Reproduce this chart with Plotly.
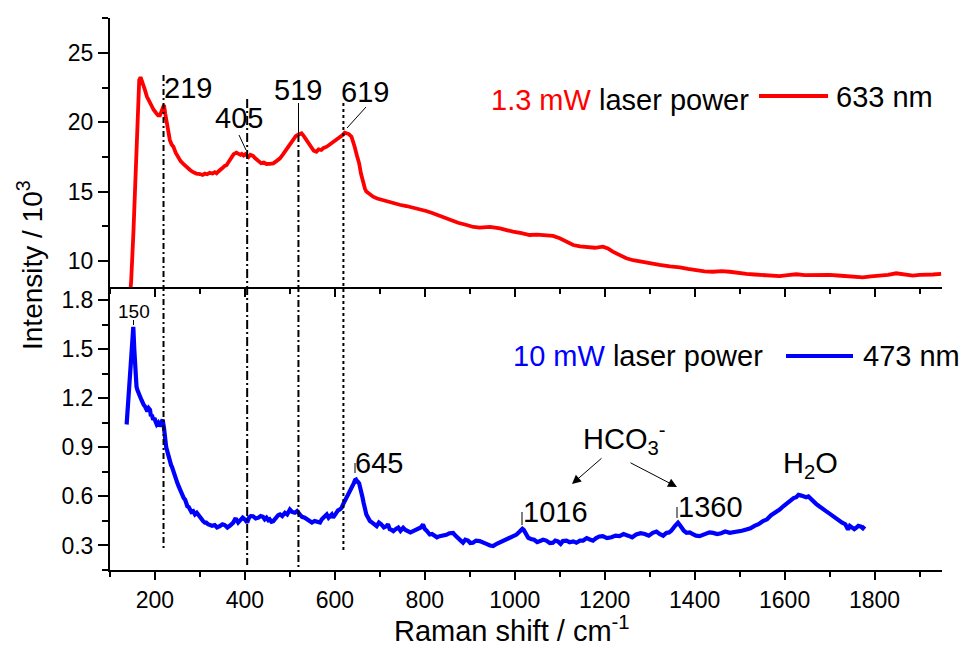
import plotly.graph_objects as go

# ---------------- data ----------------
RED_X = [143, 147, 152, 156, 159, 162, 165, 168, 171, 174, 178, 182, 187, 192, 197, 203, 207, 211, 215, 218,
         220, 223, 226, 229, 233, 237, 241, 246, 252, 257, 263, 270, 278, 285, 292, 300, 306, 311, 316, 322,
         328, 333, 337, 341, 344, 350, 355, 359, 364, 370, 375, 381, 386, 390, 393, 397, 401, 404, 408, 412,
         418, 423, 430, 436, 442, 448, 455, 463, 470, 478, 485, 493, 500, 507, 513, 518, 522, 526, 531, 537,
         542, 548, 553, 559, 564, 570, 575, 582, 589, 596, 603, 611, 618, 622, 626, 631, 637, 641, 644, 649,
         654, 658, 663, 667, 670, 677, 685, 694, 704, 716, 730, 744, 759, 774, 789, 803, 818, 836, 856, 874,
         893, 908, 922, 945, 967, 982, 996, 1015, 1033, 1050, 1070, 1085, 1100, 1115, 1130, 1145, 1159, 1178,
         1196, 1207, 1218, 1233, 1248, 1263, 1278, 1300, 1322, 1345, 1367, 1385, 1404, 1422, 1441, 1460, 1478,
         1496, 1515, 1533, 1552, 1570, 1589, 1607, 1626, 1645, 1663, 1682, 1700, 1718, 1737, 1755, 1774, 1792,
         1811, 1830, 1848, 1866, 1885, 1900, 1915, 1930, 1948]
RED_Y = [7.0, 8.5, 12.0, 15.5, 19.2, 21.8, 23.05, 23.25, 23.0, 22.8, 22.3, 21.85, 21.5, 21.1, 20.9, 20.65, 20.5,
         20.5, 20.9, 21.2, 21.25, 20.6, 19.93, 19.3, 18.73, 18.4, 18.24, 17.8, 17.4, 17.2, 17.0, 16.75, 16.56,
         16.4, 16.3, 16.27, 16.2, 16.3, 16.25, 16.35, 16.3, 16.4, 16.32, 16.45, 16.56, 16.7, 16.85, 16.9, 17.15,
         17.52, 17.7, 17.81, 17.75, 17.65, 17.72, 17.6, 17.7, 17.57, 17.5, 17.65, 17.57, 17.4, 17.16, 17.05,
         17.1, 16.99, 17.0, 17.04, 17.2, 17.4, 17.7, 18.1, 18.45, 18.77, 19.0, 19.1, 19.15, 19.2, 19.0, 18.72,
         18.45, 18.13, 17.95, 17.88, 18.05, 18.0, 18.15, 18.24, 18.4, 18.6, 18.75, 18.96, 19.1, 19.25, 19.2,
         19.15, 18.96, 18.6, 18.24, 17.6, 17.04, 16.3, 15.6, 15.2, 15.0, 14.8, 14.63, 14.5, 14.4, 14.3, 14.16,
         14.05, 13.96, 13.85, 13.72, 13.6, 13.44, 13.2, 12.95, 12.75, 12.59, 12.45, 12.4, 12.45, 12.35, 12.2,
         12.11, 12.0, 11.87, 11.9, 11.87, 11.8, 11.63, 11.4, 11.15, 11.05, 10.98, 10.95, 11.03, 10.9, 10.67,
         10.4, 10.19, 10.05, 9.95, 9.82, 9.71, 9.6, 9.54, 9.42, 9.30, 9.25, 9.22, 9.26, 9.22, 9.12, 9.06, 9.02,
         8.99, 8.95, 8.91, 8.98, 9.04, 8.98, 8.99, 9.02, 8.99, 8.95, 8.91, 8.85, 8.82, 8.88, 8.91, 9.0, 9.11,
         9.0, 8.94, 9.0, 8.99, 9.02, 9.06]

BLUE_X = [137, 141, 145, 149, 151.8, 154, 156, 159, 161, 163, 165, 167, 170, 172, 175, 178, 181, 183, 186, 189,
          191, 193, 196, 199, 201, 204, 207, 210, 212, 215, 217, 220, 222, 225, 227, 230, 233, 236, 238, 241,
          244, 247, 250, 253, 256, 259, 261, 264, 267, 270, 272, 275, 278, 281, 285, 289, 293, 297, 300, 304,
          307, 311, 314, 318, 322, 327, 333, 338, 344, 350, 355, 361, 367, 371, 374, 378, 381, 385, 390, 395,
          400, 405, 409, 413, 418, 424, 430, 435, 440, 444, 448, 452, 455, 459, 463, 467, 470, 474, 478, 483,
          489, 494, 500, 505, 511, 516, 522, 527, 533, 538, 544, 549, 555, 561, 567, 571, 575, 579, 582, 586,
          590, 593, 596, 600, 603, 607, 611, 615, 618, 622, 626, 629, 632, 635, 637, 640, 642, 645, 647, 649,
          651, 654, 656, 658, 661, 664, 667, 670, 674, 678, 683, 688, 693, 698, 703, 709, 715, 718, 722, 726,
          730, 735, 741, 746, 752, 757, 763, 768, 774, 779, 785, 791, 796, 800, 804, 808, 811, 816, 822, 827,
          833, 840, 848, 855, 863, 868, 874, 880, 885, 890, 896, 901, 907, 914, 922, 930, 937, 945, 952, 960,
          967, 975, 982, 988, 993, 998, 1004, 1011, 1017, 1020, 1023, 1027, 1030, 1036, 1043, 1050, 1056, 1063,
          1070, 1078, 1085, 1090, 1096, 1102, 1107, 1115, 1122, 1130, 1137, 1145, 1152, 1160, 1167, 1174, 1181,
          1188, 1196, 1205, 1215, 1224, 1233, 1242, 1252, 1261, 1270, 1280, 1289, 1298, 1307, 1315, 1322, 1330,
          1337, 1343, 1348, 1352, 1356, 1360, 1363, 1367, 1370, 1376, 1382, 1389, 1396, 1403, 1411, 1418, 1426,
          1433, 1441, 1450, 1459, 1468, 1478, 1487, 1496, 1505, 1515, 1524, 1533, 1542, 1552, 1561, 1570, 1580,
          1589, 1597, 1604, 1610, 1615, 1620, 1626, 1631, 1637, 1642, 1648, 1653, 1659, 1664, 1670, 1677, 1685,
          1692, 1700, 1707, 1715, 1721, 1728, 1735, 1741, 1745, 1750, 1755, 1759, 1764, 1770, 1774, 1778]
BLUE_Y = [1.04, 1.2, 1.35, 1.55, 1.637, 1.5, 1.38, 1.27, 1.25, 1.24, 1.22, 1.21, 1.19, 1.17, 1.16, 1.15, 1.12,
          1.12, 1.14, 1.13, 1.09, 1.1, 1.07, 1.08, 1.06, 1.04, 1.05, 1.03, 1.04, 1.06, 1.07, 1.02, 0.947, 0.9,
          0.88, 0.84, 0.825, 0.79, 0.78, 0.75, 0.723, 0.69, 0.68, 0.66, 0.642, 0.61, 0.6, 0.59, 0.581, 0.55,
          0.54, 0.535, 0.52, 0.505, 0.51, 0.49, 0.50, 0.485, 0.47, 0.46, 0.449, 0.44, 0.44, 0.43, 0.428, 0.42,
          0.425, 0.41, 0.418, 0.43, 0.425, 0.41, 0.422, 0.43, 0.44, 0.46, 0.459, 0.44, 0.455, 0.47, 0.459, 0.44,
          0.47, 0.48, 0.479, 0.465, 0.47, 0.48, 0.475, 0.46, 0.47, 0.455, 0.46, 0.445, 0.449, 0.465, 0.47,
          0.485, 0.49, 0.48, 0.5, 0.49, 0.52, 0.505, 0.5, 0.51, 0.49, 0.475, 0.47, 0.46, 0.449, 0.44, 0.45,
          0.445, 0.44, 0.46, 0.47, 0.485, 0.49, 0.47, 0.48, 0.49, 0.47, 0.49, 0.5, 0.515, 0.52, 0.53, 0.55,
          0.57, 0.601, 0.61, 0.63, 0.64, 0.652, 0.665, 0.68, 0.7, 0.703, 0.69, 0.69, 0.68, 0.662, 0.64, 0.6,
          0.56, 0.52, 0.49, 0.47, 0.45, 0.44, 0.43, 0.418, 0.44, 0.43, 0.41, 0.418, 0.43, 0.4, 0.395, 0.388,
          0.4, 0.41, 0.39, 0.408, 0.395, 0.39, 0.38, 0.388, 0.395, 0.4, 0.41, 0.428, 0.4, 0.39, 0.375, 0.367,
          0.37, 0.36, 0.35, 0.357, 0.36, 0.365, 0.375, 0.377, 0.36, 0.34, 0.33, 0.317, 0.335, 0.33, 0.315,
          0.317, 0.33, 0.327, 0.315, 0.31, 0.3, 0.296, 0.31, 0.32, 0.33, 0.337, 0.345, 0.35, 0.36, 0.367, 0.385,
          0.402, 0.395, 0.38, 0.36, 0.347, 0.34, 0.335, 0.32, 0.327, 0.335, 0.33, 0.315, 0.317, 0.33, 0.325,
          0.31, 0.327, 0.33, 0.32, 0.325, 0.317, 0.33, 0.33, 0.345, 0.337, 0.33, 0.345, 0.355, 0.357, 0.345,
          0.35, 0.36, 0.357, 0.37, 0.36, 0.35, 0.367, 0.375, 0.37, 0.36, 0.377, 0.385, 0.37, 0.36, 0.377, 0.38,
          0.39, 0.4, 0.418, 0.43, 0.439, 0.425, 0.41, 0.39, 0.377, 0.38, 0.37, 0.36, 0.357, 0.365, 0.37, 0.38,
          0.377, 0.37, 0.375, 0.385, 0.377, 0.38, 0.385, 0.39, 0.398, 0.405, 0.42, 0.43, 0.449, 0.46, 0.485,
          0.5, 0.52, 0.54, 0.555, 0.57, 0.581, 0.59, 0.595, 0.61, 0.605, 0.6, 0.595, 0.6, 0.581, 0.57, 0.555,
          0.54, 0.52, 0.51, 0.495, 0.48, 0.47, 0.455, 0.44, 0.43, 0.398, 0.42, 0.41, 0.4, 0.408, 0.42, 0.415,
          0.405, 0.418]

PEAKS = [219, 405, 519, 619]
PEAK_LABELS = ["219", "405", "519", "619"]
RED_LABEL = "633 nm"
BLUE_LABEL = "473 nm"
X_TICKS = [200, 400, 600, 800, 1000, 1200, 1400, 1600, 1800]
TOP_Y_TICKS = [10, 15, 20, 25]
BOT_Y_TICKS = [0.3, 0.6, 0.9, 1.2, 1.5, 1.8]

# ---------------- geometry helpers ----------------
W, H = 962, 648
L, R, T, B = 110, 942, 18, 570
FONT = "Liberation Sans, Arial, sans-serif"
TXT = 29


def PX(px):
    return (px - L) / (R - L)


def PY(py):
    return (B - py) / (B - T)


fig = go.Figure()
fig.add_trace(go.Scatter(x=RED_X, y=RED_Y, mode="lines", xaxis="x2", yaxis="y2",
                         line=dict(color="#ff0000", width=3.8), showlegend=False))
fig.add_trace(go.Scatter(x=BLUE_X, y=BLUE_Y, mode="lines", xaxis="x", yaxis="y",
                         line=dict(color="#0000ff", width=4.2), showlegend=False))

axis_common = dict(showline=True, linecolor="black", linewidth=2, showgrid=False, zeroline=False,
                   ticks="outside", tickcolor="black", tickwidth=1.5,
                   tickfont=dict(family=FONT, size=23, color="black"))

split_bot = (B - 288) / (B - T)
split_top = (B - 287) / (B - T)

fig.update_layout(
    width=W, height=H,
    margin=dict(l=L, r=W - R, t=T, b=H - B, pad=0),
    plot_bgcolor="white", paper_bgcolor="white",
    xaxis=dict(domain=[0, 1], anchor="y", range=[100, 1950], tickvals=X_TICKS, ticklen=8,
               minor=dict(dtick=100, tick0=0, ticks="outside", ticklen=5, tickwidth=1.5, tickcolor="black"),
               **axis_common),
    yaxis=dict(domain=[0, split_bot], anchor="x", range=[0.15, 1.875], tickvals=BOT_Y_TICKS,
               tickformat=".1f", ticklen=10,
               minor=dict(dtick=0.15, tick0=0, ticks="outside", ticklen=6, tickwidth=1.5, tickcolor="black"),
               **axis_common),
    xaxis2=dict(domain=[0, 1], anchor="y2", matches="x", range=[100, 1950], tickvals=X_TICKS, ticklen=8,
                showticklabels=False,
                minor=dict(dtick=100, tick0=0, ticks="outside", ticklen=5, tickwidth=1.5, tickcolor="black"),
                **axis_common),
    yaxis2=dict(domain=[split_top, 1], anchor="x2", range=[8.12, 27.52], tickvals=TOP_Y_TICKS, ticklen=10,
                minor=dict(dtick=2.5, tick0=0, ticks="outside", ticklen=6, tickwidth=1.5, tickcolor="black"),
                **axis_common),
)

shapes = []
# vertical guide lines at the peaks (x in data units, y spans both panels)
guide = [  # (top px, bottom px, dash)
    (75, 548, "6px,3px,2px,3px"),
    (99, 565, "9px,3px,2px,3px"),
    (135, 570, "7px,3px,2px,3px"),
    (103, 550, "3px,3px"),
]
for pk, (ty, by, dash) in zip(PEAKS, guide):
    shapes.append(dict(type="line", xref="x", yref="paper", x0=pk, x1=pk, y0=PY(ty), y1=PY(by),
                       line=dict(color="black", width=2, dash=dash)))

# leader lines for labels (paper coords)
leaders = [
    (298.5, 103, 298.5, 135),   # 519
    (239, 135, 246, 150),       # 405
    (366, 107, 347, 128),       # 619
    (133.5, 320, 133.5, 325),   # 150
    (355, 463, 355, 473),       # 645
    (522, 512, 522, 525),       # 1016
    (677, 507, 677, 518),       # 1360
]
for x0, y0, x1, y1 in leaders:
    shapes.append(dict(type="line", xref="paper", yref="paper", x0=PX(x0), y0=PY(y0), x1=PX(x1), y1=PY(y1),
                       line=dict(color="black", width=1)))

# legend sample lines
shapes.append(dict(type="line", xref="paper", yref="paper", x0=PX(759), x1=PX(828), y0=PY(96), y1=PY(96),
                   line=dict(color="#ff0000", width=3.8)))
shapes.append(dict(type="line", xref="paper", yref="paper", x0=PX(786), x1=PX(853), y0=PY(356), y1=PY(356),
                   line=dict(color="#0000ff", width=4.2)))
fig.update_layout(shapes=shapes)

ann = []


def text(t, px, py, size=TXT, xanchor="center", yanchor="middle", angle=0):
    ann.append(dict(text=t, x=PX(px), y=PY(py), xref="paper", yref="paper", showarrow=False,
                    xanchor=xanchor, yanchor=yanchor, textangle=angle,
                    font=dict(family=FONT, size=size, color="black")))


text(PEAK_LABELS[0], 188, 88)
text(PEAK_LABELS[1], 238.5, 118)
text(PEAK_LABELS[2], 297.5, 90)
text(PEAK_LABELS[3], 364.5, 92)
text('<span style="color:#ff0000">1.3 mW</span> laser power', 489, 100, xanchor="left")
text(RED_LABEL, 834, 97, xanchor="left")
text('<span style="color:#0000ff">10 mW</span> laser power', 511, 356, xanchor="left")
text(BLUE_LABEL, 861, 356, xanchor="left")
text("150", 134, 311, size=19)
text("645", 379, 463)
text("1016", 555, 512)
text("1360", 710.5, 507)
text("HCO<sub>3</sub><sup>-</sup>", 581, 439, xanchor="left")
text("H<sub>2</sub>O", 781, 465, xanchor="left")
text("Raman shift / cm<sup>-1</sup>", 512, 629)
text("Intensity / 10<sup>3</sup>", 30, 265, size=28, angle=-90)

# arrows from HCO3- label
for hx, hy, tx, ty in [(572, 484, 603, 457), (677, 487, 629, 462)]:
    ann.append(dict(text="", x=PX(hx), y=PY(hy), xref="paper", yref="paper", showarrow=True,
                    ax=tx - hx, ay=ty - hy, arrowhead=2, arrowsize=1.8, arrowwidth=1, arrowcolor="black"))

fig.update_layout(annotations=ann)
fig.write_html("out.html")
